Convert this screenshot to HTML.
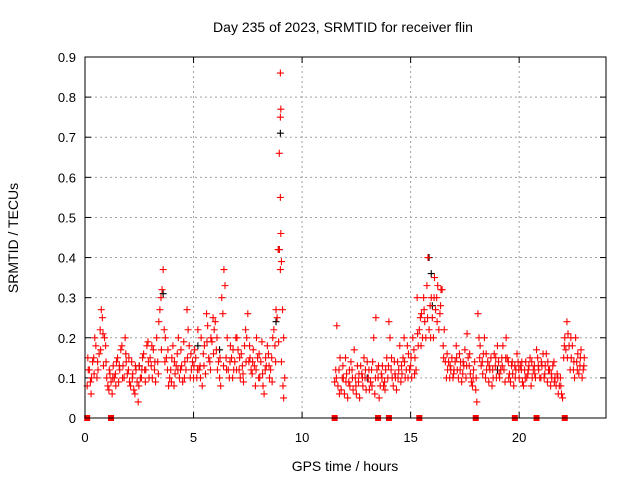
<!DOCTYPE html>
<html><head><meta charset="utf-8"><style>
html,body{margin:0;padding:0;background:#fff;}
svg{display:block;font-family:"Liberation Sans",sans-serif;}
</style></head><body>
<svg id="chart" width="640" height="480" viewBox="0 0 640 480">
<text x="343" y="32" font-size="14" text-anchor="middle">Day 235 of 2023, SRMTID for receiver flin</text>
<text x="18" y="238" font-size="14" text-anchor="middle" transform="rotate(-90 18 238)">SRMTID / TECUs</text>
<text x="345" y="471" font-size="14" text-anchor="middle">GPS time / hours</text>
<g id="grid"></g>
<g id="axes"></g>
<g id="marks"></g>
<rect x="85" y="57" width="521" height="361" fill="none" stroke="#000" stroke-width="1"/>
</svg>
<script>
var xTicks=[0,5,10,15,20];
var yTicks=[0,0.1,0.2,0.3,0.4,0.5,0.6,0.7,0.8,0.9];
var yTickLabels=["0","0.1","0.2","0.3","0.4","0.5","0.6","0.7","0.8","0.9"];
var redPoints=[[0.1,0.08],[0.2,0.12],[0.3,0.1],[0.4,0.15],[0.5,0.18],[0.6,0.12],[0.7,0.22],[0.8,0.25],[0.9,0.2],[1.0,0.1],[1.1,0.07],[1.2,0.09],[1.3,0.13],[1.4,0.11],[1.5,0.15],[1.6,0.12],[1.7,0.18],[1.8,0.1],[1.9,0.14],[2.0,0.12],[2.1,0.08],[2.2,0.11],[2.3,0.06],[2.4,0.09],[2.5,0.13],[2.6,0.1],[2.7,0.16],[2.8,0.12],[2.9,0.19],[3.0,0.15],[3.1,0.1],[3.2,0.12],[3.3,0.2],[3.4,0.24],[3.5,0.3],[3.6,0.37],[3.7,0.2],[3.8,0.12],[3.9,0.1],[4.0,0.15],[4.1,0.08],[4.2,0.13],[4.3,0.2],[4.4,0.12],[4.5,0.09],[4.6,0.14],[4.7,0.27],[4.8,0.18],[4.9,0.12],[5.0,0.1],[5.1,0.15],[5.2,0.22],[5.3,0.13],[5.4,0.08],[5.5,0.18],[5.6,0.26],[5.7,0.15],[5.8,0.2],[5.9,0.25],[6.0,0.24],[6.1,0.12],[6.2,0.1],[6.3,0.3],[6.4,0.37],[6.5,0.15],[6.6,0.12],[6.7,0.18],[6.8,0.1],[6.9,0.14],[7.0,0.2],[7.1,0.12],[7.2,0.16],[7.3,0.09],[7.4,0.22],[7.5,0.26],[7.6,0.15],[7.7,0.11],[7.8,0.13],[7.9,0.2],[8.0,0.1],[8.1,0.14],[8.2,0.08],[8.3,0.12],[8.4,0.18],[8.5,0.1],[8.6,0.15],[8.7,0.22],[8.8,0.27],[8.9,0.42],[9.0,0.86],[9.02,0.77],[9.0,0.75],[8.95,0.66],[9.0,0.55],[9.02,0.46],[8.95,0.42],[9.05,0.39],[9.0,0.37],[9.1,0.27],[9.15,0.2],[9.2,0.1],
[0.15,0.12],[0.25,0.09],[0.35,0.14],[0.45,0.2],[0.55,0.1],[0.65,0.16],[0.75,0.27],[0.85,0.13],[0.95,0.18],[1.05,0.08],[1.15,0.11],[1.25,0.06],[1.35,0.1],[1.45,0.14],[1.55,0.09],[1.65,0.17],[1.75,0.13],[1.85,0.2],[1.95,0.11],[2.05,0.09],[2.15,0.14],[2.25,0.07],[2.35,0.12],[2.45,0.04],[2.55,0.1],[2.65,0.15],[2.75,0.12],[2.85,0.18],[2.95,0.1],[3.05,0.13],[3.15,0.17],[3.25,0.09],[3.35,0.14],[3.45,0.27],[3.55,0.32],[3.65,0.22],[3.75,0.15],[3.85,0.08],[3.95,0.12],[4.05,0.18],[4.15,0.11],[4.25,0.16],[4.35,0.1],[4.45,0.13],[4.55,0.19],[4.65,0.12],[4.75,0.22],[4.85,0.1],[4.95,0.14],[5.05,0.17],[5.15,0.1],[5.25,0.12],[5.35,0.2],[5.45,0.16],[5.55,0.11],[5.65,0.23],[5.75,0.14],[5.85,0.19],[5.95,0.22],[6.05,0.17],[6.15,0.14],[6.25,0.08],[6.35,0.26],[6.45,0.33],[6.55,0.2],[6.65,0.1],[6.75,0.15],[6.85,0.12],[6.95,0.2],[7.05,0.17],[7.15,0.1],[7.25,0.13],[7.35,0.18],[7.45,0.2],[7.55,0.14],[7.65,0.12],[7.75,0.17],[7.85,0.08],[7.95,0.15],[8.05,0.1],[8.15,0.19],[8.25,0.06],[8.35,0.13],[8.45,0.16],[8.55,0.12],[8.65,0.2],[8.75,0.18],[8.85,0.25],[9.05,0.14],[9.15,0.05],
[0.13,0.15],[0.28,0.06],[0.42,0.11],[0.58,0.14],[0.72,0.17],[0.83,0.21],[0.97,0.14],[1.12,0.12],[1.28,0.1],[1.42,0.08],[1.58,0.13],[1.73,0.1],[1.88,0.16],[2.02,0.15],[2.18,0.1],[2.32,0.13],[2.48,0.08],[2.62,0.12],[2.78,0.09],[2.92,0.14],[3.08,0.18],[3.22,0.14],[3.38,0.11],[3.52,0.17],[3.68,0.14],[3.82,0.17],[3.98,0.09],[4.12,0.14],[4.28,0.12],[4.42,0.17],[4.58,0.1],[4.72,0.15],[4.88,0.16],[5.02,0.13],[5.18,0.12],[5.32,0.1],[5.48,0.13],[5.62,0.19],[5.78,0.12],[5.92,0.16],[6.08,0.2],[6.22,0.15],[6.38,0.13],[6.52,0.12],[6.68,0.14],[6.82,0.17],[6.98,0.12],[7.12,0.15],[7.28,0.11],[7.42,0.14],[7.58,0.18],[7.72,0.14],[7.88,0.12],[8.02,0.16],[8.18,0.11],[8.32,0.15],[8.48,0.13],[8.62,0.09],[8.78,0.14],[8.92,0.19],[9.12,0.08],
[11.5,0.09],[11.6,0.23],[11.7,0.12],[11.8,0.07],[11.9,0.1],[12.0,0.15],[12.1,0.05],[12.2,0.08],[12.3,0.12],[12.4,0.17],[12.5,0.06],[12.6,0.09],[12.7,0.13],[12.8,0.08],[12.9,0.1],[13.0,0.14],[13.1,0.07],[13.2,0.12],[13.3,0.2],[13.4,0.25],[13.5,0.1],[13.6,0.08],[13.7,0.13],[13.8,0.09],[13.9,0.15],[14.0,0.24],[14.1,0.12],[14.2,0.08],[14.3,0.1],[14.4,0.14],[14.5,0.18],[14.6,0.11],[14.7,0.2],[14.8,0.12],[14.9,0.16],[15.0,0.13],[15.1,0.2],[15.2,0.15],[15.3,0.3],[15.4,0.22],[15.5,0.26],[15.6,0.3],[15.7,0.2],[15.8,0.4],[15.9,0.28],[16.0,0.25],[16.1,0.35],[16.2,0.3],[16.3,0.22],[16.4,0.32],[16.5,0.18],[16.6,0.14],[16.7,0.12],[16.8,0.1],[16.9,0.15],[17.0,0.12],[17.1,0.18],[17.2,0.1],[17.3,0.14],[17.4,0.11],[17.5,0.17],[17.6,0.21],[17.7,0.13],[17.8,0.09],[17.9,0.12],[18.0,0.07],[18.1,0.26],[18.2,0.18],[18.3,0.14],[18.4,0.2],[18.5,0.12],[18.6,0.09],[18.7,0.15],[18.8,0.1],[18.9,0.13],[19.0,0.18],[19.1,0.1],[19.2,0.15],[19.3,0.12],[19.4,0.2],[19.5,0.14],[19.6,0.09],[19.7,0.11],[19.8,0.13],[19.9,0.16],[20.0,0.1],[20.1,0.12],[20.2,0.08],[20.3,0.14],[20.4,0.11],[20.5,0.15],[20.6,0.1],[20.7,0.13],[20.8,0.17],[20.9,0.12],[21.0,0.1],[21.1,0.16],[21.2,0.13],[21.3,0.09],[21.4,0.12],[21.5,0.1],[21.6,0.14],[21.7,0.08],[21.8,0.06],[21.9,0.1],[22.0,0.05],[22.1,0.2],[22.2,0.24],[22.3,0.18],[22.4,0.15],[22.5,0.12],[22.6,0.2],[22.7,0.16],[22.8,0.13],[22.9,0.1],[23.0,0.15],
[11.55,0.12],[11.65,0.08],[11.75,0.15],[11.85,0.1],[11.95,0.06],[12.05,0.11],[12.15,0.09],[12.25,0.14],[12.35,0.07],[12.45,0.1],[12.55,0.13],[12.65,0.05],[12.75,0.11],[12.85,0.15],[12.95,0.07],[13.05,0.1],[13.15,0.09],[13.25,0.14],[13.35,0.06],[13.45,0.12],[13.55,0.05],[13.65,0.11],[13.75,0.08],[13.85,0.12],[13.95,0.1],[14.05,0.2],[14.15,0.1],[14.25,0.14],[14.35,0.07],[14.45,0.12],[14.55,0.09],[14.65,0.15],[14.75,0.1],[14.85,0.18],[14.95,0.12],[15.05,0.1],[15.15,0.17],[15.25,0.12],[15.35,0.18],[15.45,0.25],[15.55,0.2],[15.65,0.24],[15.75,0.33],[15.85,0.22],[15.95,0.3],[16.05,0.2],[16.15,0.27],[16.25,0.33],[16.35,0.26],[16.45,0.32],[16.55,0.22],[16.65,0.1],[16.75,0.14],[16.85,0.12],[16.95,0.1],[17.05,0.14],[17.15,0.12],[17.25,0.16],[17.35,0.09],[17.45,0.13],[17.55,0.1],[17.65,0.15],[17.75,0.11],[17.85,0.08],[17.95,0.14],[18.05,0.04],[18.15,0.2],[18.25,0.13],[18.35,0.16],[18.45,0.1],[18.55,0.14],[18.65,0.12],[18.75,0.08],[18.85,0.16],[18.95,0.1],[19.05,0.14],[19.15,0.12],[19.25,0.18],[19.35,0.09],[19.45,0.15],[19.55,0.11],[19.65,0.13],[19.75,0.08],[19.85,0.12],[19.95,0.14],[20.05,0.13],[20.15,0.09],[20.25,0.12],[20.35,0.1],[20.45,0.13],[20.55,0.08],[20.65,0.12],[20.75,0.1],[20.85,0.15],[20.95,0.1],[21.05,0.13],[21.15,0.1],[21.25,0.16],[21.35,0.12],[21.45,0.08],[21.55,0.13],[21.65,0.1],[21.75,0.11],[21.85,0.08],[21.95,0.06],[22.05,0.15],[22.15,0.17],[22.25,0.21],[22.35,0.12],[22.45,0.18],[22.55,0.1],[22.65,0.14],[22.75,0.11],[22.85,0.17],[22.95,0.12],
[11.58,0.1],[11.72,0.06],[11.88,0.13],[12.02,0.09],[12.18,0.12],[12.32,0.1],[12.48,0.08],[12.62,0.11],[12.78,0.1],[12.92,0.12],[13.08,0.12],[13.22,0.08],[13.38,0.1],[13.52,0.13],[13.68,0.1],[13.82,0.07],[13.98,0.13],[14.12,0.15],[14.28,0.11],[14.42,0.1],[14.58,0.13],[14.72,0.14],[14.88,0.1],[15.02,0.15],[15.18,0.11],[15.32,0.21],[15.48,0.18],[15.62,0.27],[15.78,0.25],[15.92,0.2],[16.08,0.3],[16.22,0.24],[16.38,0.28],[16.52,0.15],[16.68,0.16],[16.82,0.13],[16.98,0.11],[17.12,0.15],[17.28,0.12],[17.42,0.14],[17.58,0.13],[17.72,0.16],[17.88,0.1],[18.02,0.1],[18.18,0.15],[18.32,0.11],[18.48,0.16],[18.62,0.13],[18.78,0.12],[18.92,0.15],[19.08,0.11],[19.22,0.13],[19.38,0.15],[19.52,0.1],[19.68,0.14],[19.82,0.1],[19.98,0.12],[20.12,0.14],[20.28,0.1],[20.42,0.12],[20.58,0.14],[20.72,0.11],[20.88,0.13],[21.02,0.14],[21.18,0.11],[21.32,0.14],[21.48,0.11],[21.62,0.09],[21.78,0.1],[21.92,0.08],[22.08,0.18],[22.22,0.15],[22.38,0.2],[22.52,0.14],[22.68,0.12],[22.82,0.15],[22.98,0.13]];
var blackPoints=[[9.0,0.71],[8.95,0.42],[15.85,0.4],[15.95,0.36],[3.6,0.31],[8.8,0.24],[16.0,0.28],[2.5,0.13],[6.2,0.17],[19.0,0.12],[13.0,0.1],[5.2,0.18]];
var squareTimes=[0.1,1.2,11.5,13.5,14.0,15.4,18.0,19.8,20.8,22.1];

var NS="http://www.w3.org/2000/svg";
var X0=85,X1=606,Y0=418,Y1=57,XMAX=24,YMAX=0.9;
function xs(t){return X0+(X1-X0)*t/XMAX;}
function ys(v){return Y0-(Y0-Y1)*v/YMAX;}
function mk(tag,attrs,parent){var e=document.createElementNS(NS,tag);for(var k in attrs)e.setAttribute(k,attrs[k]);parent.appendChild(e);return e;}
var grid=document.getElementById('grid'),axes=document.getElementById('axes'),marks=document.getElementById('marks');
yTicks.forEach(function(v,i){
  var y=ys(v);
  if(i>0&&i<yTicks.length-1){var g=mk('line',{x1:X0,x2:X1,y1:y,y2:y,stroke:'#a0a0a0','stroke-dasharray':'2,3'},grid);
  
  }
  mk('line',{x1:X0,x2:X0+6,y1:y,y2:y,stroke:'#000'},axes);
  mk('line',{x1:X1,x2:X1-6,y1:y,y2:y,stroke:'#000'},axes);
  var t=mk('text',{x:X0-9,y:y+5,'font-size':13,'text-anchor':'end'},axes);
  
  
  t.textContent=yTickLabels[i];
});
xTicks.forEach(function(v){
  var x=xs(v);
  if(v>0){var g=mk('line',{x1:x,x2:x,y1:Y0,y2:Y1,stroke:'#a0a0a0','stroke-dasharray':'2,3'},grid);
  
  }
  mk('line',{x1:x,x2:x,y1:Y0,y2:Y0-6,stroke:'#000'},axes);
  mk('line',{x1:x,x2:x,y1:Y1,y2:Y1+6,stroke:'#000'},axes);
  var t=mk('text',{x:x,y:Y0+24,'font-size':13,'text-anchor':'middle'},axes);
  
  
  t.textContent=String(v);
});
function plus(t,v,col){
  var x=xs(t),y=ys(v);
  var p=mk('path',{d:'M'+(x-3.5)+' '+y+'h7M'+x+' '+(y-3.5)+'v7',stroke:col,'stroke-width':1.1,fill:'none'},marks);
  
  
}
blackPoints.forEach(function(p){plus(p[0],p[1],'#000');});
redPoints.forEach(function(p){plus(p[0],p[1],'#ff0000');});
squareTimes.forEach(function(t){
  var r=mk('rect',{x:xs(t)-3,y:Y0-3,width:6,height:6,fill:'#ff0000'},marks);
  
  
});
</script>
</body></html>
